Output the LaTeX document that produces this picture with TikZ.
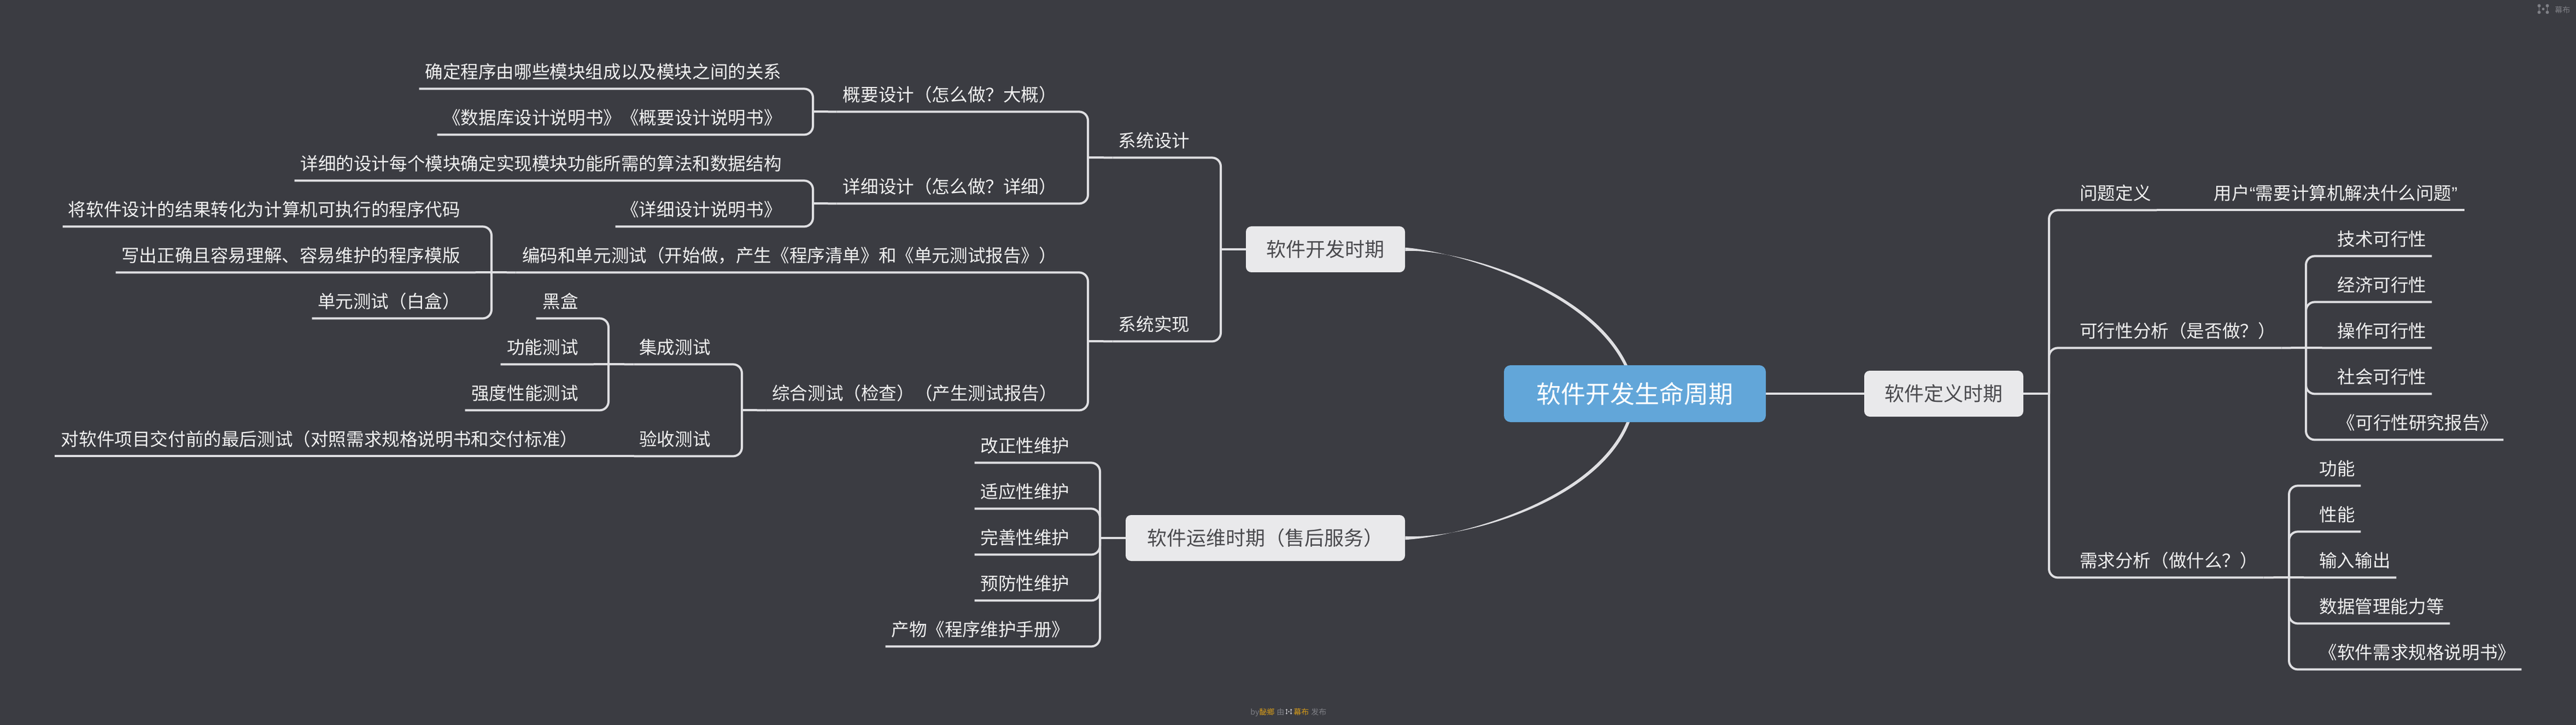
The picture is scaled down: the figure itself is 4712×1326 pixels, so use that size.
\documentclass[tikz,border=0pt]{standalone}
\usepackage{fontspec}
\setmainfont{Noto Sans CJK SC}
\newfontfamily\quotefont{Liberation Sans}
\usetikzlibrary{calc}
\pgfdeclarelayer{back}
\pgfdeclarelayer{wires}
\pgfsetlayers{back,wires,main}
\definecolor{bgc}{HTML}{3B3C42}
\definecolor{linec}{HTML}{DFDFE2}
\definecolor{leaftext}{HTML}{F0F0F0}
\definecolor{boxc}{HTML}{E9E9EB}
\definecolor{boxtext}{HTML}{4A4A4E}
\definecolor{rootc}{HTML}{62A6D9}
\definecolor{footgray}{HTML}{7F8086}
\definecolor{footorange}{HTML}{D49A1A}
\tikzset{
  conn/.style={draw=linec,line width=2pt,rounded corners=8pt,line cap=butt},
  leafbox/.style={inner sep=0pt,minimum height=31pt,text=leaftext,
    font=\fontsize{16.3pt}{18pt}\selectfont,text height=14.3pt,text depth=1.9pt},
  topic/.style={fill=boxc,rounded corners=5pt,inner sep=0pt,text=boxtext,
    font=\fontsize{18pt}{20pt}\selectfont,text height=15.9pt,text depth=2.1pt},
  rootbox/.style={fill=rootc,rounded corners=6pt,inner sep=0pt,text=white,
    font=\fontsize{22.5pt}{25pt}\selectfont,text height=19.8pt,text depth=2.7pt},
  foot/.style={inner sep=0pt,font=\fontsize{7pt}{8pt}\selectfont,text height=6.2pt,text depth=.8pt},
  curvefill/.style={fill=linec,draw=none},
}
\newcommand{\leafnode}[5]{\node[leafbox,minimum width={(#3-#2)*0.5pt}] (#1) at ({(#2+#3)/2},{#4-15.5*2}) {#5};}
\newcommand{\kidL}[2]{\draw[conn] (#1.south west) -- (#1.south east) -| (#2);}
\newcommand{\kidR}[2]{\draw[conn] (#1.south east) -- (#1.south west) -| (#2);}
\newcommand{\flatL}[2]{\draw[conn] (#1.south west) -- (#1.south east) -- (#2);}
\newcommand{\flatR}[2]{\draw[conn] (#1.south east) -- (#1.south west) -- (#2);}
\newcommand{\muicon}[4]{%
  \begin{scope}[shift={(#1,#2)},scale=#3]
    \draw[#4,line width=.8pt] (-7.5,-6) -- (-7.5,6) (7.5,-6) -- (7.5,6);
    \fill[#4] (-7.5,-6) circle (3) (-7.5,6) circle (3) (7.5,-6) circle (3) (7.5,6) circle (3) (0,0) circle (2.4);
  \end{scope}}
\begin{document}
\begin{tikzpicture}[x=0.5pt,y=-0.5pt]
\useasboundingbox (0,0) rectangle (4712,1326);
\begin{pgfonlayer}{back}
\fill[bgc] (0,0) rectangle (4712,1326);
\end{pgfonlayer}

% main nodes
\node[rootbox,minimum width=239.5pt,minimum height=52pt] (root) at (2990.5,720) {软件开发生命周期};
\node[topic,minimum width=145.5pt,minimum height=42pt] (dev) at (2424.5,456) {软件开发时期};
\node[topic,minimum width=255.5pt,minimum height=42pt] (ops) at (2314.5,984) {软件运维时期（售后服务）};
\node[topic,minimum width=145.5pt,minimum height=42pt] (def) at (3555.5,720) {软件定义时期};

% development branch
\leafnode{aa}{767}{1440}{162}{确定程序由哪些模块组成以及模块之间的关系}
\leafnode{ab}{800}{1440}{246}{《数据库设计说明书》《概要设计说明书》}
\leafnode{ac}{539}{1440}{330}{详细的设计每个模块确定实现模块功能所需的算法和数据结构}
\leafnode{ad}{1126}{1440}{414}{《详细设计说明书》}
\leafnode{pa}{1531}{1944}{204}{概要设计（怎么做？大概）}
\leafnode{pb}{1531}{1944}{372}{详细设计（怎么做？详细）}
\leafnode{sd}{2036}{2186}{288}{系统设计}
\leafnode{ca}{115}{852}{414}{将软件设计的结果转化为计算机可执行的程序代码}
\leafnode{cb}{212}{852}{498}{写出正确且容易理解、容易维护的程序模版}
\leafnode{cc}{571}{852}{582}{单元测试（白盒）}
\leafnode{bm}{944}{1944}{498}{编码和单元测试（开始做，产生《程序清单》和《单元测试报告》）}
\leafnode{ea}{981}{1069}{582}{黑盒}
\leafnode{eb}{916}{1069}{666}{功能测试}
\leafnode{ec}{851}{1069}{750}{强度性能测试}
\leafnode{ed}{100}{1069}{834}{对软件项目交付前的最后测试（对照需求规格说明书和交付标准）}
\leafnode{jc}{1160}{1309}{666}{集成测试}
\leafnode{ys}{1160}{1309}{834}{验收测试}
\leafnode{zh}{1402}{1944}{750}{综合测试（检查）（产生测试报告）}
\leafnode{sx}{2036}{2186}{624}{系统实现}

% operations branch
\leafnode{oa}{1783}{1967}{846}{改正性维护}
\leafnode{ob}{1783}{1967}{930}{适应性维护}
\leafnode{oc}{1783}{1967}{1014}{完善性维护}
\leafnode{od}{1783}{1967}{1098}{预防性维护}
\leafnode{oe}{1620}{1967}{1182}{产物《程序维护手册》}

% definition branch
\leafnode{wt}{3794}{3945}{384}{问题定义}
\leafnode{yh}{4037}{4508}{384}{用户{\quotefont “}需要计算机解决什么问题{\quotefont ”}}
\leafnode{kx}{3794}{4173}{636}{可行性分析（是否做？）}
\leafnode{ka}{4266}{4448}{468}{技术可行性}
\leafnode{kb}{4266}{4448}{552}{经济可行性}
\leafnode{kc}{4266}{4448}{636}{操作可行性}
\leafnode{kd}{4266}{4448}{720}{社会可行性}
\leafnode{ke}{4266}{4579}{804}{《可行性研究报告》}
\leafnode{xq}{3794}{4140}{1056}{需求分析（做什么？）}
\leafnode{xa}{4232}{4318}{888}{功能}
\leafnode{xb}{4232}{4318}{972}{性能}
\leafnode{xc}{4232}{4383}{1056}{输入输出}
\leafnode{xd}{4232}{4481}{1140}{数据管理能力等}
\leafnode{xe}{4232}{4612}{1224}{《软件需求规格说明书》}

% junctions
\coordinate (jdev) at (2233,456);
\coordinate (jsd) at (1990,288);
\coordinate (jsx) at (1990,624);
\coordinate (jpa) at (1487,204);
\coordinate (jpb) at (1487,372);
\coordinate (jbm) at (899,498);
\coordinate (jzh) at (1357,750);
\coordinate (jjc) at (1113,666);
\coordinate (jops) at (2012,984);
\coordinate (jdef) at (3748,720);
\coordinate (jkx) at (4218,636);
\coordinate (jxq) at (4187,1056);

\begin{pgfonlayer}{wires}
% curved trunks, tapering toward the root
\fill[curvefill] ([yshift=1.6pt]dev.east) .. controls (2660,459.5) and (2956,537) .. ([xshift=-1.2pt]root.center)
   -- ([xshift=1.2pt]root.center) .. controls (2964,533) and (2660,452.5) .. ([yshift=-1.6pt]dev.east) -- cycle;
\fill[curvefill] ([yshift=-1.6pt]ops.east) .. controls (2680,980.5) and (2971,903) .. ([xshift=-1.2pt]root.center)
   -- ([xshift=1.2pt]root.center) .. controls (2979,907) and (2680,987.5) .. ([yshift=1.6pt]ops.east) -- cycle;
\draw[conn] (root.east) -- (def.west);

% development
\draw[conn] (jdev) -- (dev.west);
\kidL{sd}{jdev}\kidL{sx}{jdev}
\draw[conn] (jsd) -- (sd.south west);
\kidL{pa}{jsd}\kidL{pb}{jsd}
\draw[conn] (jpa) -- (pa.south west);
\kidL{aa}{jpa}\kidL{ab}{jpa}
\draw[conn] (jpb) -- (pb.south west);
\kidL{ac}{jpb}\kidL{ad}{jpb}
\draw[conn] (jsx) -- (sx.south west);
\kidL{bm}{jsx}\kidL{zh}{jsx}
\draw[conn] (jbm) -- (bm.south west);
\kidL{ca}{jbm}\flatL{cb}{jbm}\kidL{cc}{jbm}
\draw[conn] (jzh) -- (zh.south west);
\kidL{jc}{jzh}\kidL{ys}{jzh}
\draw[conn] (jjc) -- (jc.south west);
\kidL{ea}{jjc}\flatL{eb}{jjc}\kidL{ec}{jjc}
\flatL{ed}{ys.south west}

% operations
\draw[conn] (jops) -- (ops.west);
\kidL{oa}{jops}\kidL{ob}{jops}\kidL{oc}{jops}\kidL{od}{jops}\kidL{oe}{jops}

% definition
\draw[conn] (def.east) -- (jdef);
\kidR{wt}{jdef}\kidR{kx}{jdef}\kidR{xq}{jdef}
\flatR{yh}{wt.south east}
\draw[conn] (kx.south east) -- (jkx);
\kidR{ka}{jkx}\kidR{kb}{jkx}\flatR{kc}{jkx}\kidR{kd}{jkx}\kidR{ke}{jkx}
\draw[conn] (xq.south east) -- (jxq);
\kidR{xa}{jxq}\kidR{xb}{jxq}\flatR{xc}{jxq}\kidR{xd}{jxq}\kidR{xe}{jxq}
\end{pgfonlayer}

% top-right mark
\muicon{4652}{16.5}{1}{footgray}
\node[foot,anchor=west,text=footgray] (mark) at (4673,18) {幕布};

% footer
\node[foot,anchor=west,text=footgray] (fby) at (2287,1302) {by};
\node[foot,anchor=west,text=footorange] (fname) at (2303,1302) {馝鄉};
\node[foot,anchor=west,text=footgray] (fyou) at (2335,1302) {由};
\muicon{2357.5}{1301.5}{.55}{boxc!70!footgray}
\node[foot,anchor=west,text=footorange] (fmu) at (2366,1302) {幕布};
\node[foot,anchor=west,text=footgray] (ffa) at (2398,1302) {发布};
\end{tikzpicture}
\end{document}
